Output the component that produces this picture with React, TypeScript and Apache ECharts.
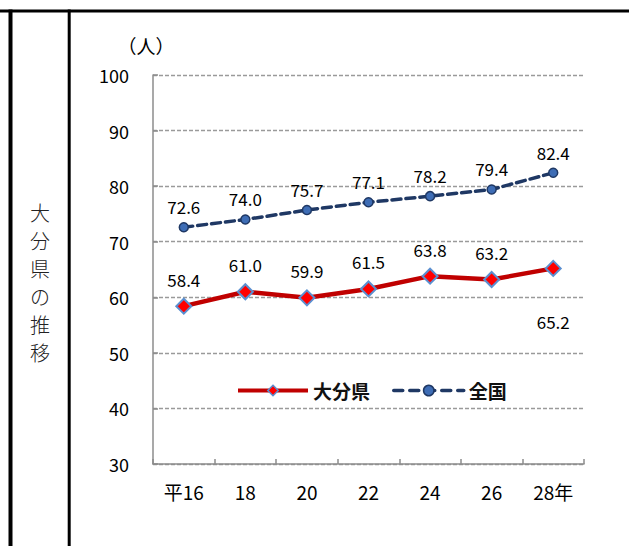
import React, { useEffect, useRef } from "react";
import * as echarts from "echarts";

const categories = ["平16", "18", "20", "22", "24", "26", "28年"];
const oitaValues = [58.4, 61.0, 59.9, 61.5, 63.8, 63.2, 65.2];
const nationalValues = [72.6, 74.0, 75.7, 77.1, 78.2, 79.4, 82.4];
const seriesNames = ["大分県", "全国"];
const yMin = 30;
const yMax = 100;
const yInterval = 10;
const unitLabel = "（人）";
const sideTitle = "大分県の推移";

const FONT = "'Noto Sans CJK JP', 'Noto Sans', sans-serif";

export default function App() {
  const ref = useRef<HTMLDivElement>(null);
  useEffect(() => {
    if (!ref.current) return;
    const chart = echarts.init(ref.current, undefined, { renderer: "svg" });
    const lastIdx = oitaValues.length - 1;
    chart.setOption({
      animation: false,
      backgroundColor: "#ffffff",
      textStyle: { fontFamily: FONT },
      grid: { left: 153, right: 45, top: 75, bottom: 82, containLabel: false },
      legend: {
        left: 236,
        top: 381,
        padding: 0,
        itemWidth: 70,
        itemHeight: 13,
        itemGap: 22,
        data: [
          {
            name: seriesNames[0],
            lineStyle: { color: "#C00000", width: 4 },
            itemStyle: { color: "#FF0000", borderColor: "#5B8FD0", borderWidth: 1.5 },
          },
          {
            name: seriesNames[1],
            lineStyle: { color: "#1F3864", width: 3.5, type: [9, 7], cap: "round" },
            itemStyle: { color: "#3E6DB5", borderColor: "#1F3864", borderWidth: 1.5 },
          },
        ],
        textStyle: { fontSize: 19, fontWeight: "bold", color: "#111", fontFamily: FONT },
      },
      xAxis: {
        type: "category",
        data: categories,
        boundaryGap: true,
        axisLine: { lineStyle: { color: "#8c8c8c", width: 1.5 } },
        axisTick: { show: true, inside: true, length: 5, lineStyle: { color: "#8c8c8c", width: 1.5 } },
        axisLabel: { fontSize: 19, color: "#000", margin: 18, fontFamily: FONT },
      },
      yAxis: {
        type: "value",
        min: yMin,
        max: yMax,
        interval: yInterval,
        axisLine: { show: true, lineStyle: { color: "#8c8c8c", width: 1.5 } },
        axisTick: { show: true, inside: true, length: 5, lineStyle: { color: "#8c8c8c", width: 1.5 } },
        axisLabel: { fontSize: 18, color: "#000", margin: 24, fontFamily: FONT },
        splitLine: { show: true, lineStyle: { color: "#9a9a9a", width: 1.3, type: [4, 2] } },
      },
      series: [
        {
          name: seriesNames[0],
          type: "line",
          data: oitaValues.map((v, i) =>
            i === lastIdx ? { value: v, label: { position: "bottom", distance: 36 } } : v
          ),
          symbol: "diamond",
          symbolSize: 15,
          lineStyle: { color: "#C00000", width: 4.5 },
          itemStyle: { color: "#FF0000", borderColor: "#5B8FD0", borderWidth: 2 },
          label: {
            show: true,
            position: "top",
            distance: 10,
            formatter: (p: any) => Number(p.value).toFixed(1),
            fontSize: 17,
            color: "#000",
            fontFamily: FONT,
          },
          z: 3,
        },
        {
          name: seriesNames[1],
          type: "line",
          data: nationalValues,
          symbol: "circle",
          symbolSize: 9,
          lineStyle: { color: "#1F3864", width: 3.5, type: [9, 5], cap: "round" },
          itemStyle: { color: "#3E6DB5", borderColor: "#1F3864", borderWidth: 1.5 },
          label: {
            show: true,
            position: "top",
            distance: 7,
            formatter: (p: any) => Number(p.value).toFixed(1),
            fontSize: 17,
            color: "#000",
            fontFamily: FONT,
          },
          z: 3,
        },
      ],
      graphic: [
        { type: "rect", shape: { x: 0, y: 9.5, width: 629, height: 3 }, style: { fill: "#000" } },
        { type: "rect", shape: { x: 8.5, y: 9.5, width: 4, height: 540 }, style: { fill: "#000" } },
        { type: "rect", shape: { x: 67.7, y: 9.5, width: 3, height: 540 }, style: { fill: "#000" } },
        {
          type: "text",
          x: 146,
          y: 45,
          style: {
            text: unitLabel,
            fontSize: 19,
            fill: "#000",
            fontFamily: FONT,
            align: "center",
            verticalAlign: "middle",
          },
        },
        {
          type: "text",
          x: 40,
          y: 282,
          style: {
            text: sideTitle.split("").join("\n"),
            fontSize: 20,
            lineHeight: 28,
            fill: "#222",
            fontWeight: 300,
            fontFamily: FONT,
            align: "center",
            verticalAlign: "middle",
          },
        },
      ],
    });
    return () => chart.dispose();
  }, []);
  return (
    <div
      ref={ref}
      style={{ position: "fixed", left: 0, top: 0, width: 629, height: 546 }}
    />
  );
}
